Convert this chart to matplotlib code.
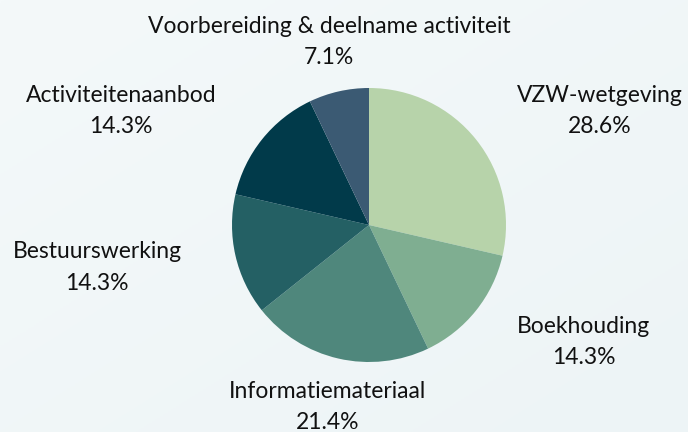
import matplotlib.pyplot as plt
import numpy as np

labels = ['VZW-wetgeving', 'Boekhouding', 'Informatiemateriaal',
          'Bestuurswerking', 'Activiteitenaanbod',
          'Voorbereiding & deelname activiteit']
values = [28.6, 14.3, 21.4, 14.3, 14.3, 7.1]
colors = ['#b7d3aa', '#7fae91', '#4f877c', '#246064', '#013a4a', '#3b5a73']

# label centres in pie units (radius = 1)
label_pos = [(1.686, 0.83), (1.569, -0.855), (-0.30, -1.33),
             (-1.985, -0.31), (-1.81, 0.83), (-0.29, 1.335)]

plt.rcParams['font.family'] = ['Lato', 'DejaVu Sans']

fig = plt.figure(figsize=(6.88, 4.32), dpi=100)
bg = fig.add_axes([0, 0, 1, 1])
grad = np.linspace(0, 1, 256)
g = np.add.outer(grad, grad) / 2
bg.imshow(g, cmap=plt.matplotlib.colors.LinearSegmentedColormap.from_list(
    'bg', ['#f4f9fa', '#edf4f6']), aspect='auto', extent=[0, 1, 0, 1])
bg.axis('off')

ax = fig.add_axes([0, 0, 1, 1])
ax.patch.set_alpha(0)
ax.pie(values, colors=colors, startangle=90, counterclock=False,
       radius=1, wedgeprops=dict(linewidth=0))

tot = sum(values)
for lab, v, (x, y) in zip(labels, values, label_pos):
    ax.text(x, y, f'{lab}\n{v / tot * 100:.1f}%', ha='center', va='center',
            fontsize=16.5, color='#111111', linespacing=1.6)

ax.set_xlim(-369 / 137, (688 - 369) / 137)
ax.set_ylim((225 - 432) / 137, 225 / 137)
ax.set_aspect('equal')
ax.axis('off')

fig.savefig('out.png', dpi=100)
